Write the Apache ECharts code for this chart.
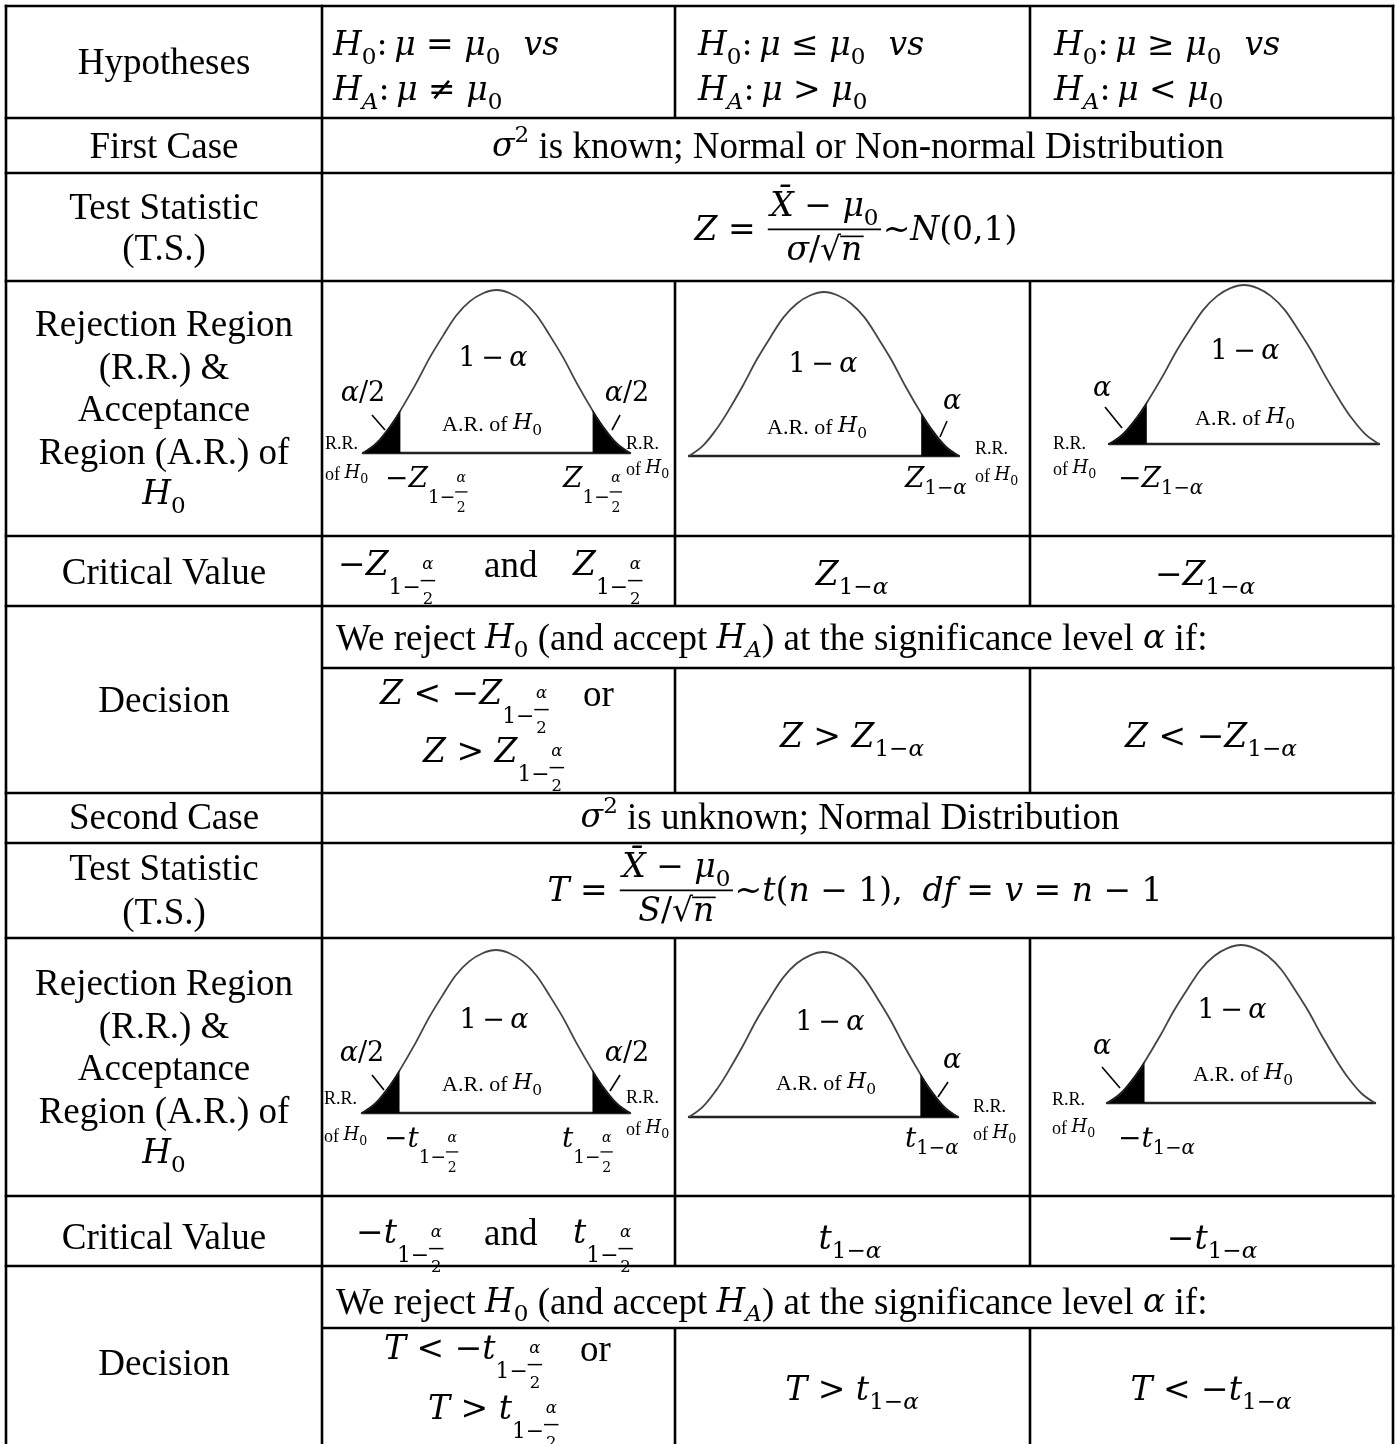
<!DOCTYPE html>
<html>
<head>
<meta charset="utf-8">
<script src="https://cdn.jsdelivr.net/npm/echarts@6/dist/echarts.min.js"></script>
<style>
html, body { margin: 0; padding: 0; background: #fff; }
#chart { width: 1396px; height: 1444px; }
</style>
</head>
<body>
<div id="chart"></div>
<script>
// bell outline: x in half-widths, y as share of the peak height
var bellX = [-1, -0.9, -0.8, -0.72, -0.6, -0.5, -0.4, -0.3, -0.2, -0.1, 0, 0.1, 0.2, 0.3, 0.4, 0.5, 0.6, 0.72, 0.8, 0.9, 1];
var bellY = [0, 0.06, 0.16, 0.26, 0.43, 0.585, 0.72, 0.845, 0.93, 0.98, 1, 0.98, 0.93, 0.845, 0.72, 0.585, 0.43, 0.26, 0.16, 0.06, 0];
var tailCut = 0.72;
var tails = ['both', 'right', 'left', 'both', 'right', 'left'];

var rowLabels = ['Hypotheses', 'First Case', 'Test Statistic', '(T.S.)', 'Rejection Region', '(R.R.) &',
    'Acceptance', 'Region (A.R.) of', 'H0', 'Critical Value', 'Decision', 'Second Case', 'Test Statistic',
    '(T.S.)', 'Rejection Region', '(R.R.) &', 'Acceptance', 'Region (A.R.) of', 'H0', 'Critical Value', 'Decision'];
var rowLabelY = [73, 157, 218, 259, 335, 378, 420, 463, 505, 583, 711, 828, 879, 923, 994, 1037, 1079, 1122, 1164, 1248, 1374];

// table geometry
var colX = [6, 322, 675, 1030, 1393];
var fullRows = [6, 118, 173, 281, 536, 606, 793, 843, 938, 1196, 1266];
var subRows = [668, 1328];
var innerSpans = [[6, 118], [281, 606], [668, 793], [938, 1266], [1328, 1444]];
var panels = [
    {left: 363, top: 290, width: 267, height: 163},
    {left: 689, top: 292, width: 270, height: 164},
    {left: 1109, top: 285, width: 270, height: 159},
    {left: 362, top: 950, width: 268, height: 163},
    {left: 689, top: 952, width: 269, height: 165},
    {left: 1107, top: 945, width: 268, height: 158}
];
var pointers = [
    [372, 415, 385, 430], [620, 415, 612, 430], [947, 421, 940, 437], [1105, 407, 1122, 428],
    [372, 1075, 384, 1090], [620, 1075, 610, 1091], [948, 1082, 938, 1097], [1102, 1067, 1120, 1088]
];

var FT = 'Liberation Serif', FM = 'DejaVu Serif';
var TS = 37, MS = 33;
var TH = '\u2009';
var cv = document.createElement('canvas').getContext('2d');
function fontStr(size, fam, it) { return (it ? 'italic ' : '') + size.toFixed(1) + 'px "' + fam + '"'; }
function tw(t, size, fam, it) { cv.font = fontStr(size, fam, it); return cv.measureText(t).width; }

function m(t) { return {t: t, fam: FM, it: true, k: 1, dy: 0}; }
function u(t) { return {t: t, fam: FM, it: false, k: 1, dy: 0}; }
function r(t) { return {t: t, fam: FT, it: false, k: 0, dy: 0}; }
function sb(t) { return {t: t, fam: FM, it: false, k: 0.7, dy: 0.26}; }
function sbi(t) { return {t: t, fam: FM, it: true, k: 0.7, dy: 0.26}; }
function sp(t) { return {t: t, fam: FM, it: false, k: 0.7, dy: -0.42}; }
function gap(e) { return {gap: e}; }
function frac(num, den) { return {num: num, den: den}; }
function sqrt(t) { return {sqrt: t}; }
var half = {half: true};
var sub1 = [{t: '1−', fam: FM, it: false, k: 0.7, dy: 0.26}, {t: 'α', fam: FM, it: true, k: 0.7, dy: 0.26}];
function flat(a) { return a.reduce(function (o, p) { return o.concat(Array.isArray(p) ? flat(p) : [p]); }, []); }

function layout(pieces, S, RS) {
    var x = 0, els = [];
    flat(pieces).forEach(function (p) {
        if (p.gap != null) { x += p.gap * S; return; }
        if (p.half) {
            var s1 = 0.66 * S, s2 = 0.5 * S;
            els.push({t: '1−', x: x, b: 0.57 * S, size: s1, fam: FM, it: false});
            x += tw('1−', s1, FM, false);
            var wa = tw('α', s2, FM, true), w2 = tw('2', s2, FM, false), fw = Math.max(wa, w2) + 0.1 * S;
            els.push({t: 'α', x: x + (fw - wa) / 2, b: -0.18 * S, size: s2, fam: FM, it: true});
            els.push({line: [x, 0.14 * S, x + fw, 0.14 * S], lw: Math.max(1.2, 0.045 * S)});
            els.push({t: '2', x: x + (fw - w2) / 2, b: 0.88 * S, size: s2, fam: FM, it: false});
            x += fw + 0.05 * S;
            return;
        }
        if (p.num) {
            var a = layout(p.num, S, RS), d = layout(p.den, S, RS);
            var w = Math.max(a.w, d.w) + 0.25 * S, L = -0.35 * S;
            a.els.forEach(function (e) { els.push(moved(e, x + (w - a.w) / 2, L - 0.36 * S)); });
            d.els.forEach(function (e) { els.push(moved(e, x + (w - d.w) / 2, L + 0.98 * S)); });
            els.push({line: [x + 0.05 * S, L, x + w - 0.05 * S, L], lw: 0.055 * S});
            x += w;
            return;
        }
        if (p.sqrt) {
            var ws = tw('√', S, FM, false), wn = tw(p.sqrt, S, FM, true);
            els.push({t: '√', x: x, b: 0, size: S, fam: FM, it: false});
            els.push({t: p.sqrt, x: x + ws, b: 0, size: S, fam: FM, it: true});
            els.push({line: [x + ws - 0.03 * S, -0.77 * S, x + ws + wn + 0.04 * S, -0.77 * S], lw: 0.05 * S});
            x += ws + wn;
            return;
        }
        var size = p.k ? p.k * S : RS;
        els.push({t: p.t, x: x, b: p.dy * S, size: size, fam: p.fam, it: p.it});
        x += tw(p.t, size, p.fam, p.it);
    });
    return {w: x, els: els};
}
function moved(e, dx, db) {
    if (e.line) return {line: [e.line[0] + dx, e.line[1] + db, e.line[2] + dx, e.line[3] + db], lw: e.lw};
    return {t: e.t, x: e.x + dx, b: e.b + db, size: e.size, fam: e.fam, it: e.it};
}

var graphics = [];
function put(pieces, x, b, opt) {
    opt = opt || {};
    var S = opt.S || MS, RS = opt.RS || (opt.S ? opt.S * 1.12 : TS);
    var lay = layout(pieces, S, RS);
    var x0 = opt.align === 'center' ? x - lay.w / 2 : x;
    lay.els.forEach(function (e) {
        if (e.line) {
            graphics.push({type: 'line', silent: true, shape: {x1: x0 + e.line[0], y1: b + e.line[1], x2: x0 + e.line[2], y2: b + e.line[3]},
                style: {stroke: '#000', lineWidth: e.lw}});
        } else {
            var mid = e.fam === FT ? 0.23 : 0.3;
            graphics.push({type: 'text', silent: true, x: x0 + e.x, y: b + e.b - mid * e.size,
                style: {text: e.t, font: fontStr(e.size, e.fam, e.it), fill: '#000', textAlign: 'left', textVerticalAlign: 'middle'}});
        }
    });
}
function hline(y, x1, x2) { graphics.push({type: 'line', silent: true, shape: {x1: x1, y1: y, x2: x2, y2: y}, style: {stroke: '#000', lineWidth: 2.6}}); }
function vline(x, y1, y2) { graphics.push({type: 'line', silent: true, shape: {x1: x, y1: y1, x2: x, y2: y2}, style: {stroke: '#000', lineWidth: 2.6}}); }

// table rules
fullRows.forEach(function (y) { hline(y, colX[0] - 1.3, colX[4] + 1.3); });
subRows.forEach(function (y) { hline(y, colX[1], colX[4] + 1.3); });
[colX[0], colX[1], colX[4]].forEach(function (x) { vline(x, colX[0] - 1.3, 1444); });
innerSpans.forEach(function (s) { vline(colX[2], s[0], s[1]); vline(colX[3], s[0], s[1]); });
pointers.forEach(function (p) {
    graphics.push({type: 'line', silent: true, shape: {x1: p[0], y1: p[1], x2: p[2], y2: p[3]}, style: {stroke: '#000', lineWidth: 1.6}});
});

// first column
rowLabels.forEach(function (t, i) {
    if (t === 'H0') put([m('H'), sb('0')], 164, rowLabelY[i], {align: 'center'});
    else put([r(t)], 164, rowLabelY[i], {align: 'center'});
});

// hypotheses
var hyp = [['=', '≠'], ['≤', '>'], ['≥', '<']];
[333, 698, 1054].forEach(function (x, i) {
    put([m('H'), sb('0'), u(':' + TH), m('μ'), u(' ' + hyp[i][0] + ' '), m('μ'), sb('0'), gap(0.7), m('vs')], x, 56);
    put([m('H'), sbi('A'), u(':' + TH), m('μ'), u(' ' + hyp[i][1] + ' '), m('μ'), sb('0')], x, 101);
});

// first case
put([m('σ'), sp('2'), r(' is known; Normal or Non-normal Distribution')], 858, 157, {align: 'center'});
put([m('Z'), u(' = '), frac([m('X̄'), u(' − '), m('μ'), sb('0')], [m('σ'), u('/'), sqrt('n')]), u('~'), m('N'), u('(0,1)')],
    856, 241, {align: 'center'});

// curve annotations
function curveText(c, z) {
    var s = {S: 27, align: 'center'}, small = {S: 18, RS: 18}, ar = {S: 22, RS: 22, align: 'center'};
    var oneA = [u('1' + TH + '−' + TH), m('α')];
    put(oneA, c.one[0], c.one[1], s);
    put(c.kind === 'both' ? [m('α'), u('/2')] : [m('α')], c.a1[0], c.a1[1], s);
    put([r('A.R. of '), m('H'), sb('0')], c.ar[0], c.ar[1], ar);
    put([r('R.R.')], c.rr1[0], c.rr1[1], small);
    put([r('of '), m('H'), sb('0')], c.of1[0], c.of1[1], small);
    if (c.kind === 'both') {
        put([m('α'), u('/2')], c.a2[0], c.a2[1], s);
        put([r('R.R.')], c.rr2[0], c.rr2[1], small);
        put([r('of '), m('H'), sb('0')], c.of2[0], c.of2[1], small);
        put([u('−'), m(z), half], c.z1[0], c.z1[1], {S: 28});
        put([m(z), half], c.z2[0], c.z2[1], {S: 28});
    } else {
        put(c.kind === 'left' ? [u('−'), m(z), sub1] : [m(z), sub1], c.z1[0], c.z1[1], {S: 28});
    }
}
curveText({kind: 'both', one: [493, 367], a1: [363, 402], a2: [627, 402], ar: [492, 430], rr1: [325, 448], of1: [325, 479],
    rr2: [626, 448], of2: [626, 474], z1: [385, 488], z2: [563, 488]}, 'Z');
curveText({kind: 'right', one: [823, 373], a1: [952, 410], ar: [817, 433], rr1: [975, 453], of1: [975, 481], z1: [905, 488]}, 'Z');
curveText({kind: 'left', one: [1245, 360], a1: [1102, 397], ar: [1245, 424], rr1: [1053, 448], of1: [1053, 474], z1: [1118, 488]}, 'Z');
curveText({kind: 'both', one: [494, 1029], a1: [362, 1062], a2: [627, 1062], ar: [492, 1090], rr1: [324, 1103], of1: [324, 1141],
    rr2: [626, 1102], of2: [626, 1134], z1: [384, 1148], z2: [562, 1148]}, 't');
curveText({kind: 'right', one: [830, 1031], a1: [952, 1069], ar: [826, 1089], rr1: [973, 1111], of1: [973, 1139], z1: [905, 1148]}, 't');
curveText({kind: 'left', one: [1232, 1019], a1: [1102, 1055], ar: [1243, 1080], rr1: [1052, 1104], of1: [1052, 1133], z1: [1118, 1148]}, 't');

// critical values and decisions, first case
put([u('−'), m('Z'), half], 338, 576);
put([r('and')], 484, 576);
put([m('Z'), half], 573, 576);
put([m('Z'), sub1], 852, 586, {align: 'center'});
put([u('−'), m('Z'), sub1], 1205, 586, {align: 'center'});
var reject = [r('We reject '), m('H'), sb('0'), r(' (and accept '), m('H'), sbi('A'), r(') at the significance level '), m('α'), r(' if:')];
put(reject, 336, 649);
put([m('Z'), u(' < −'), m('Z'), half], 380, 705);
put([r('or')], 583, 705);
put([m('Z'), u(' > '), m('Z'), half], 423, 763);
put([m('Z'), u(' > '), m('Z'), sub1], 852, 748, {align: 'center'});
put([m('Z'), u(' < −'), m('Z'), sub1], 1211, 748, {align: 'center'});

// second case
put([m('σ'), sp('2'), r(' is unknown; Normal Distribution')], 850, 828, {align: 'center'});
put([m('T'), u(' = '), frac([m('X̄'), u(' − '), m('μ'), sb('0')], [m('S'), u('/'), sqrt('n')]), u('~'), m('t'), u('('), m('n'),
    u(' − 1),'), gap(0.6), m('df'), u(' = '), m('v'), u(' = '), m('n'), u(' − 1')], 855, 902, {align: 'center'});
put([u('−'), m('t'), half], 356, 1244);
put([r('and')], 484, 1244);
put([m('t'), half], 573, 1244);
put([m('t'), sub1], 850, 1250, {align: 'center'});
put([u('−'), m('t'), sub1], 1212, 1250, {align: 'center'});
put(reject, 336, 1313);
put([m('T'), u(' < −'), m('t'), half], 384, 1360);
put([r('or')], 580, 1360);
put([m('T'), u(' > '), m('t'), half], 428, 1420);
put([m('T'), u(' > '), m('t'), sub1], 852, 1401, {align: 'center'});
put([m('T'), u(' < −'), m('t'), sub1], 1211, 1401, {align: 'center'});

// bell curves
function pts(keep) {
    var out = [];
    bellX.forEach(function (x, i) { if (keep(x)) out.push([x, bellY[i]]); });
    return out;
}
var grids = [], xAxes = [], yAxes = [], series = [];
panels.forEach(function (p, i) {
    grids.push({left: p.left, top: p.top, width: p.width, height: p.height});
    xAxes.push({gridIndex: i, type: 'value', min: -1, max: 1, axisLine: {show: true, lineStyle: {color: '#222', width: 2.4}},
        axisTick: {show: false}, axisLabel: {show: false}, splitLine: {show: false}});
    yAxes.push({gridIndex: i, type: 'value', min: 0, max: 1, show: false});
    series.push({type: 'line', xAxisIndex: i, yAxisIndex: i, data: pts(function () { return true; }), smooth: 0.35,
        showSymbol: false, clip: false, lineStyle: {color: '#444', width: 1.8}, silent: true});
    var parts = [];
    if (tails[i] !== 'right') parts.push(pts(function (x) { return x <= -tailCut + 1e-9; }));
    if (tails[i] !== 'left') parts.push(pts(function (x) { return x >= tailCut - 1e-9; }));
    parts.forEach(function (d) {
        series.push({type: 'line', xAxisIndex: i, yAxisIndex: i, data: d, smooth: 0.35, showSymbol: false, clip: false,
            lineStyle: {color: '#000', width: 1}, areaStyle: {color: '#000', opacity: 1}, silent: true});
    });
});

var myChart = echarts.init(document.getElementById('chart'));
myChart.setOption({
    animation: false,
    backgroundColor: '#fff',
    grid: grids,
    xAxis: xAxes,
    yAxis: yAxes,
    series: series,
    graphic: {elements: graphics}
});
</script>
</body>
</html>
